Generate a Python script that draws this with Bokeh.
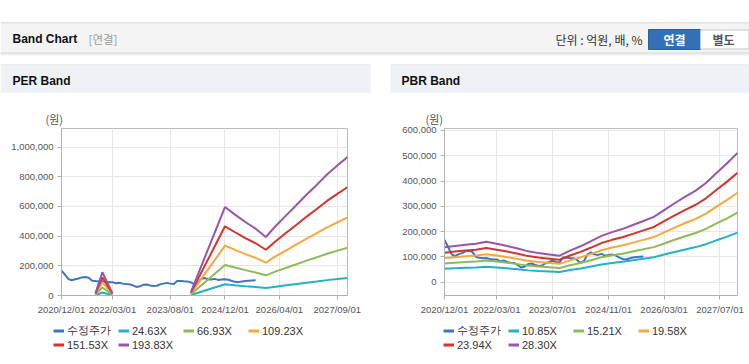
import pandas as pd
from bokeh.plotting import figure
from bokeh.layouts import column, row
from bokeh.models import (Range1d, FixedTicker, DatetimeTickFormatter, NumeralTickFormatter,
                          Legend, LegendItem, Label, Spacer)
from bokeh.embed import file_html
from bokeh.resources import INLINE

NAN = float("nan")

# ---------------- data ----------------
x_start = "2020-12-01"
x_end = "2027-12-01"

# 수정주가 (monthly, from 2020-12)
price_start = "2020-12-01"
price = [167000, 140000, 110000, 103000, 110000, 115000, 122000, 124000, 120000, 100000,
         97000, 95000, 96000, 92000, 90000, 90000, 82000, 86000, 80000, 77000,
         76000, 68000, 58000, 62000, 72000, 74000, 68000, 64000, 66000, 75000,
         80000, 85000, 80000, 78000, 98000, 97000, 96000, 95000, 88000, 76000,
         84000, 110000, 118000, 110000, 108000, 112000, 105000, 108000, 110000, 106000,
         98000, 92000, 90000, 94000, 98000, 100000, 101000, 102000]

# PER band
per_dates = ["2021-10-01", "2021-12-01", "2022-03-01", "2023-01-01", "2024-02-01",
             "2024-12-01", "2025-03-01", "2025-06-01", "2025-09-01", "2025-12-01",
             "2026-03-01", "2026-06-01", "2026-09-01", "2026-12-01", "2027-03-01",
             "2027-06-01", "2027-09-01", "2027-12-01"]
per_24_63 = [2000, 20000, 2000, NAN, 3200, 75700, 69300, 62900, 57200, 50100,
             59700, 68600, 77500, 86400, 94700, 103600, 111200, 118600]
per_66_93 = [5500, 54200, 5500, NAN, 8600, 205800, 188200, 170900, 155400, 136000,
             162300, 186500, 210600, 234800, 257200, 281400, 302100, 322200]
per_109_23 = [9000, 88500, 9000, NAN, 14100, 335800, 307100, 278900, 253600, 222000,
              264800, 304300, 343700, 383200, 419800, 459300, 493100, 525700]
per_151_53 = [12500, 122700, 12500, NAN, 19500, 466000, 426100, 387000, 351800, 308000,
              367400, 422200, 476900, 531600, 582400, 637200, 684100, 729400]
per_193_83 = [16000, 157000, 16000, NAN, 25000, 596000, 545000, 495000, 450000, 394000,
              470000, 540000, 610000, 680000, 745000, 815000, 875000, 933000]

# PBR band (quarterly, from 2020-12)
pbr_start = "2020-12-01"
pbr_10_85 = [52900, 54800, 56700, 58300, 61300, 58300, 54800, 51000, 46800, 44100,
             42200, 40300, 47900, 54400, 62100, 70200, 75900, 80500, 86600, 92800,
             98900, 109300, 119600, 129600, 138800, 150300, 165600, 180200, 195900]
pbr_15_21 = [74200, 76900, 79500, 81700, 86000, 81700, 76900, 71500, 65600, 61800,
             59100, 56400, 67200, 76300, 87100, 98400, 106400, 112900, 121500, 130100,
             138700, 153200, 167700, 181700, 194600, 210700, 232200, 252600, 274700]
pbr_19_58 = [95500, 98900, 102400, 105200, 110700, 105200, 98900, 92000, 84400, 79600,
             76100, 72600, 86500, 98200, 112100, 126600, 137000, 145300, 156400, 167400,
             178500, 197200, 215900, 233900, 250500, 271200, 298900, 325200, 353600]
pbr_23_94 = [116700, 121000, 125200, 128600, 135400, 128600, 121000, 112500, 103200, 97300,
             93100, 88800, 105700, 120100, 137000, 154800, 167500, 177600, 191200, 204700,
             218300, 241100, 263900, 285900, 306200, 331600, 365400, 397600, 432300]
pbr_28_30 = [138000, 143000, 148000, 152000, 160000, 152000, 143000, 133000, 122000, 115000,
             110000, 105000, 125000, 142000, 162000, 183000, 198000, 210000, 226000, 242000,
             258000, 285000, 312000, 338000, 362000, 392000, 432000, 470000, 511000]

per_labels = ["수정주가", "24.63X", "66.93X", "109.23X", "151.53X", "193.83X"]
pbr_labels = ["수정주가", "10.85X", "15.21X", "19.58X", "23.94X", "28.30X"]

per_xticks = ["2020-12-01", "2022-03-01", "2023-08-01", "2024-12-01", "2026-04-01", "2027-09-01"]
pbr_xticks = ["2020-12-01", "2022-03-01", "2023-07-01", "2024-11-01", "2026-03-01", "2027-07-01"]
per_yticks = [0, 200000, 400000, 600000, 800000, 1000000]
pbr_yticks = [0, 100000, 200000, 300000, 400000, 500000, 600000]

COLORS = ["#3b76c4", "#22b2c6", "#8fba58", "#f5a83c", "#d3342b", "#9a55a8"]


def ms(d):
    return pd.Timestamp(d).value / 1e6


price_dates = pd.date_range(price_start, periods=len(price), freq="MS")
pbr_dates = pd.date_range(pbr_start, periods=len(pbr_28_30), freq="3MS")
per_x = pd.to_datetime(per_dates)

FMT = "%Y/%m/%d"
HDR_H = 93
CHART_H = 225
LEG_H = 44
FOOT_H = 2
FRAME_TOP = 35
FRAME_H = 167


def canvas(width, height, x0, y0):
    p = figure(width=width, height=height,
               x_range=Range1d(x0, x0 + width), y_range=Range1d(y0 + height, y0),
               x_axis_type=None, y_axis_type=None,
               output_backend="svg", toolbar_location=None, min_border=0,
               outline_line_color=None, background_fill_color="#ffffff",
               border_fill_color="#ffffff")
    return p


def make_chart(width, border_left, frame_width, y_lo, y_hi, yticks, xticks,
               series, unit_offset):
    border_right = width - border_left - frame_width
    p = figure(width=width, height=CHART_H, frame_width=frame_width, frame_height=FRAME_H,
               x_axis_type="datetime",
               x_range=Range1d(ms(x_start), ms(x_end)),
               y_range=Range1d(y_lo, y_hi),
               output_backend="svg", toolbar_location=None, title="(원)",
               min_border_left=border_left, min_border_right=border_right,
               min_border_top=FRAME_TOP, min_border_bottom=CHART_H - FRAME_TOP - FRAME_H,
               background_fill_color="#ffffff", border_fill_color="#ffffff",
               outline_line_color="#bcbcbc")
    p.title.align = "left"
    p.title.offset = unit_offset
    p.title.standoff = 3
    p.title.text_font = "Noto Sans CJK KR"
    p.title.text_font_size = "11px"
    p.title.text_font_style = "normal"
    p.title.text_color = "#555555"

    p.xaxis.ticker = FixedTicker(ticks=[ms(t) for t in xticks])
    p.xaxis.formatter = DatetimeTickFormatter(days=FMT, months=FMT, years=FMT)
    p.yaxis.ticker = FixedTicker(ticks=yticks)
    p.yaxis.formatter = NumeralTickFormatter(format="0,0")
    for ax in (p.xaxis[0], p.yaxis[0]):
        ax.axis_line_color = "#b0b0b0"
        ax.major_tick_line_color = "#b0b0b0"
        ax.major_tick_out = 4
        ax.major_tick_in = 0
        ax.minor_tick_line_color = None
        ax.major_label_text_font = "Liberation Sans"
        ax.major_label_text_font_size = "9.5px"
        ax.major_label_text_color = "#555555"
        ax.major_label_standoff = 4
    p.xgrid.grid_line_color = "#e6e6e6"
    p.ygrid.grid_line_color = "#e6e6e6"

    for (xs, ys), c in zip(series, COLORS):
        p.line(x=xs, y=ys, line_color=c, line_width=2)
    return p


def make_legend(width, labels):
    p = canvas(width, LEG_H, 0, 0)
    items = []
    for lab, c in zip(labels, COLORS):
        # legend-only renderer: a single missing point, nothing is drawn in the frame
        r = p.line(x=[NAN], y=[NAN], line_color=c, line_width=3)
        items.append(LegendItem(label=lab, renderers=[r]))
    legend = Legend(items=items, location=(53, 11), orientation="horizontal", ncols=4,
                    glyph_width=11, glyph_height=13, label_standoff=3,
                    label_width=51, label_height=13, spacing=0, padding=0, margin=0,
                    border_line_color=None, background_fill_alpha=0,
                    label_text_font="Liberation Sans", label_text_font_size="11px",
                    label_text_color="#333333")
    p.add_layout(legend)
    return p


def box(p, l, r, t, b, fill, line=None):
    p.quad(left=[l], right=[r], top=[t], bottom=[b], fill_color=fill, line_color=line)


def text(p, x, y, s, font="Liberation Sans", size="12px", color="#111111",
         style="normal", align="left"):
    p.add_layout(Label(x=x, y=y, text=s, text_font=font, text_font_size=size,
                       text_color=color, text_font_style=style, text_align=align,
                       text_baseline="middle"))


# ---------------- top header + panel headers ----------------
hdr = canvas(749, HDR_H, 0, 0)
box(hdr, 0, 749, 22, 23, "#c4c4c4")
box(hdr, 0, 749, 23, 52, "#f4f4f4")
box(hdr, 0, 749, 52, 53, "#cfcfcf")
box(hdr, 0, 749, 53, 54, "#e2e2e2")
box(hdr, 0, 749, 54, 55, "#f0f0f0")
text(hdr, 12, 38.5, "Band Chart", style="bold", color="#111111")
text(hdr, 88, 38.5, "[연결]", font="Noto Sans CJK KR", size="11.5px", color="#9a9a9a")
text(hdr, 642, 39, "단위 : 억원, 배, %", font="Noto Sans CJK KR", size="12px",
     color="#333333", align="right")
box(hdr, 648, 700, 29, 49, "#3371b6", "#2b62a3")
text(hdr, 674, 39, "연결", font="Noto Sans CJK KR", size="12px", color="#ffffff",
     style="bold", align="center")
box(hdr, 700, 748.5, 29.5, 48.5, "#ffffff", "#c6c6c6")
text(hdr, 723, 39, "별도", font="Noto Sans CJK KR", size="12px", color="#555555",
     style="bold", align="center")

box(hdr, 0, 370, 64, 65, "#d9d9d9")
box(hdr, 0, 370, 65, 93, "#eef1f6")
text(hdr, 12, 80, "PER Band", style="bold", color="#111111")
box(hdr, 390, 749, 64, 65, "#d9d9d9")
box(hdr, 390, 749, 65, 93, "#eef1f6")
text(hdr, 401, 80, "PBR Band", style="bold", color="#111111")

# ---------------- charts ----------------
per_series = [(price_dates, price), (per_x, per_24_63), (per_x, per_66_93),
              (per_x, per_109_23), (per_x, per_151_53), (per_x, per_193_83)]
pbr_series = [(price_dates, price), (pbr_dates, pbr_10_85), (pbr_dates, pbr_15_21),
              (pbr_dates, pbr_19_58), (pbr_dates, pbr_23_94), (pbr_dates, pbr_28_30)]

left = make_chart(370, 61, 286, 0, 1125000, per_yticks, per_xticks, per_series, -16)
right = make_chart(359, 54, 293, -52500, 607500, pbr_yticks, pbr_xticks, pbr_series, -19)

left_leg = make_legend(370, per_labels)
right_leg = make_legend(359, pbr_labels)

# ---------------- footer line ----------------
foot = canvas(749, FOOT_H, 0, 362)
box(foot, 0, 370, 363, 364, "#d4d4d4")
box(foot, 390, 749, 363, 364, "#d4d4d4")

page = column(hdr,
              row(left, Spacer(width=20, height=CHART_H), right),
              row(left_leg, Spacer(width=20, height=LEG_H), right_leg),
              foot)

open("out.html", "w").write(file_html(page, INLINE))
